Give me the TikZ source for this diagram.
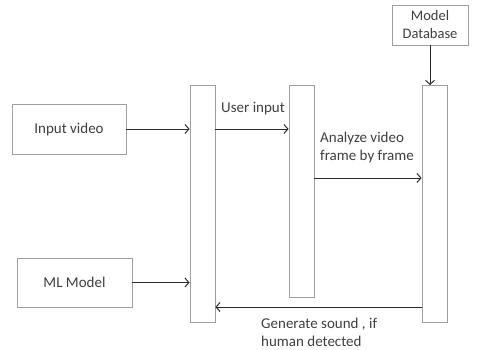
\documentclass[tikz,border=0pt]{standalone}
\usepackage{fontspec}
\setmainfont{Carlito}
\usetikzlibrary{arrows.meta, positioning}
\definecolor{cline}{HTML}{2B2B2B}
\definecolor{cbox}{HTML}{A0A0A0}
\definecolor{ctext}{HTML}{3F3F3F}
\tikzset{
  every picture/.style={font=\fontsize{15}{17.5}\selectfont, text=ctext},
  box/.style={draw=cbox, fill=white, line width=0.8pt, align=center, inner sep=2pt},
  life/.style={draw=cbox, fill=white, line width=0.8pt, minimum width=25pt, minimum height=#1, inner sep=0pt},
  arrow/.style={-{Straight Barb[length=4pt, width=9pt]}, draw=cline, line width=1pt},
  msg/.style={align=left, inner sep=0pt, anchor=north west},
}

\begin{document}
\begin{tikzpicture}[x=1pt, y=-1pt]
  \useasboundingbox (0,0) rectangle (480,349);

  \node[box, minimum width=114pt, minimum height=50pt] (video) at (69,129) {Input video};
  \node[box, minimum width=115pt, minimum height=49pt] (ml) at (74.5,282.5) {ML Model};
  \node[box, minimum width=76pt, minimum height=40pt, inner sep=1pt, font=\fontsize{14.5}{18}\selectfont] (db) at (430,25) {Model\\ Database};

  \node[life=237pt, anchor=north] (l1) at (202.5,85) {};
  \node[life=212pt, anchor=north] (l2) at (301.5,85) {};
  \node[life=237pt, anchor=north] (l3) at (434.5,85) {};

  \draw[arrow] (video.east) -- (video.east -| l1.west);
  \draw[arrow] (ml.east) -- (ml.east -| l1.west);
  \draw[arrow] (db.south) -- (db.south |- l3.north);

  \coordinate (ui) at (l1.east |- 0,129);
  \draw[arrow] (ui) -- (ui -| l2.west);
  \node[msg] (uitext) at (221,102) {User input};

  \coordinate (an) at (l2.east |- 0,178);
  \draw[arrow] (an) -- (an -| l3.west);
  \node[msg] (antext) at (320,132) {Analyze video\\ frame by frame};

  \coordinate (gs) at (l3.west |- 0,307);
  \draw[arrow] (gs) -- (gs -| l1.east);
  \node[msg] (gstext) at (261,318) {Generate sound , if\\ human detected};
\end{tikzpicture}
\end{document}
